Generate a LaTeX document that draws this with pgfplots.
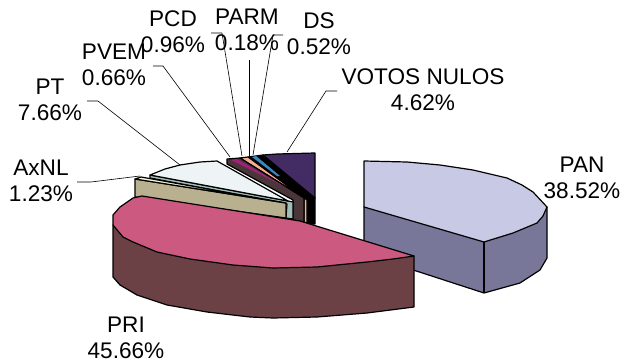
\documentclass[border=0pt]{standalone}
\usepackage{fontspec}
\setmainfont{Liberation Sans}
\usepackage{pgfplots}
\pgfplotsset{compat=1.18}
\definecolor{panT}{HTML}{C8C9E4}\definecolor{panS}{HTML}{787799}
\definecolor{priT}{HTML}{CC5A80}\definecolor{priS}{HTML}{6B4145}
\definecolor{axT}{HTML}{FBF6DC}\definecolor{axS}{HTML}{B8B08F}
\definecolor{ptT}{HTML}{EEF4F5}\definecolor{ptS}{HTML}{A0BDB8}
\definecolor{pvT}{HTML}{A0207A}\definecolor{pvS}{HTML}{4A3538}
\definecolor{pcT}{HTML}{F4B090}\definecolor{dsT}{HTML}{3A88C0}
\definecolor{voT}{HTML}{432C63}
\tikzset{lbl/.style={font=\fontsize{22.6bp}{26bp}\selectfont,align=center,inner sep=0pt,text=black}}
\begin{document}
\begin{tikzpicture}
\path[use as bounding box] (0,0) rectangle (621bp,364bp);
\begin{axis}[at={(0,0)},anchor=south west,width=621bp,height=364bp,scale only axis,
 xmin=0,xmax=621,ymin=0,ymax=364,y dir=reverse,axis lines=none,clip=false,
 every axis plot/.append style={line width=1.2bp,line join=round}]
% leaders
\addplot[black,line width=.6bp] coordinates {(77,182)(91,182)(140,176)};
\addplot[black,line width=.6bp] coordinates {(87,101)(98,101)(180,165)};
\addplot[black,line width=.6bp] coordinates {(153,66)(163,66)(230,157)};
\addplot[black,line width=.6bp] coordinates {(211,33)(222,33)(242,156)};
\addplot[black,line width=.6bp] coordinates {(249,60)(249,156)};
\addplot[black,line width=.6bp] coordinates {(283,35)(273,35)(253,155)};
\addplot[black,line width=.6bp] coordinates {(337,91)(326,91)(287,152)};
% VOTOS NULOS and the dark sides behind the small slices
\addplot[draw=black,fill=black] coordinates {(248,157)(263,155)(315,198)(315,224)(300,224)(307,200)} --cycle;
\addplot[draw=black,fill=voT] coordinates {(263,155)(277,154)(315,153)(315,198)} --cycle;
% DS, PARM
\addplot[draw=none,fill=dsT] coordinates {(252,157)(256,156)(280,176)(277,176)} --cycle;
% PCD
\addplot[draw=black,fill=pcT] coordinates {(240,158)(248,157)(307,200)(307,223)(304,222)(304,198)} --cycle;
% PVEM
\addplot[draw=black,fill=pvS] coordinates {(227,159)(240,158)(304,198)(304,222)(293,220)(293,200)(227,164)} --cycle;
\addplot[draw=none,fill=pvT] coordinates {(231,160)(237,159)(285,187)} --cycle;
% PT
\addplot[draw=black,fill=ptS] coordinates {(150,175)(150,178)(287,204)(286,218)(293,219)(293,202)(288,201)} --cycle;
\addplot[draw=black,fill=ptT] coordinates {(150,175)(165,169)(180,165)(200,162)(217,161)(288,201)} --cycle;
% AxNL
\addplot[draw=black,fill=axS] coordinates {(135,179)(135,197)(286,218)(286,203)} --cycle;
\addplot[draw=black,fill=axT] coordinates {(135,179)(141,177)(286,203)} --cycle;
% PAN
\addplot[draw=black,fill=panS] coordinates {(364,207)(364,254)(484,293)(520,283)(540,270)(547,258)(547,207)} --cycle;
\addplot[draw=black] coordinates {(484,242)(484,293)};
\addplot[draw=black,fill=panT] coordinates {(364,161)(407,162)(440,165)(473,170)(490,174)(507,178)(522,185)(533,192)(547,207)(543,216)(537,223)(513,233)(484,242)(364,207)} --cycle;
% PRI
\addplot[draw=black,fill=priS] coordinates {(113,225)(113,277)(120,285)(137,295)(167,305)(207,312)(250,317)(273,318)(317,317)(367,313)(414,307)(414,256)} --cycle;
\addplot[draw=black,fill=priT] coordinates {(142,196)(133,198)(120,207)(113,215)(113,225)(123,237)(133,242)(157,252)(190,259)(233,265)(273,268)(317,267)(367,262)(393,259)(414,256)(300,221)} --cycle;
% labels
\node[lbl] at (axis cs:582,178) {PAN\\38.52\%};
\node[lbl] at (axis cs:126,338) {PRI\\45.66\%};
\node[lbl] at (axis cs:41,181) {AxNL\\1.23\%};
\node[lbl] at (axis cs:50,100) {PT\\7.66\%};
\node[lbl] at (axis cs:114,65) {PVEM\\0.66\%};
\node[lbl] at (axis cs:173,32) {PCD\\0.96\%};
\node[lbl] at (axis cs:247,30) {PARM\\0.18\%};
\node[lbl] at (axis cs:319,34) {DS\\0.52\%};
\node[lbl] at (axis cs:423,90) {VOTOS NULOS\\4.62\%};
\end{axis}
\end{tikzpicture}
\end{document}
